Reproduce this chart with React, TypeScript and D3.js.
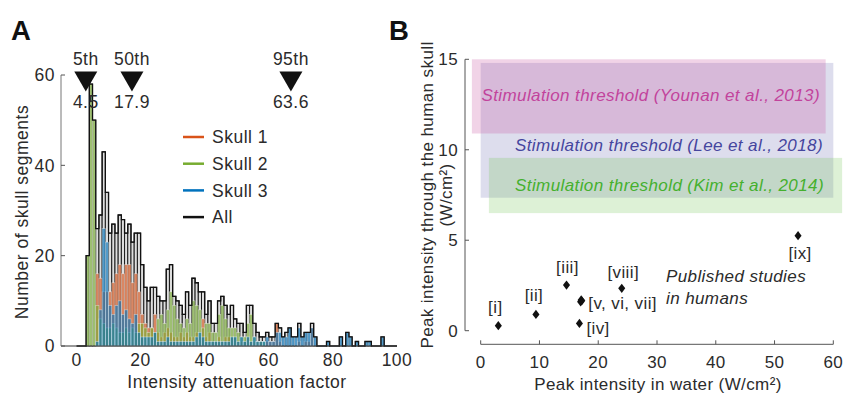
import React from "react";
import * as d3 from "d3";

// ---------- Panel A data (bin width 1, bins 0..99) ----------
const allCounts = [
  0, 0, 0, 20, 58, 50, 26, 29, 43, 34,
  25, 27, 25, 29, 28, 25, 27, 23, 25, 25,
  18, 13, 10, 13, 13, 11, 10, 10, 17, 18,
  11, 10, 9, 7, 12, 9, 15, 14, 12, 12,
  7, 10, 5, 5, 10, 11, 9, 7, 9, 6,
  5, 5, 3, 9, 9, 5, 3, 2, 2, 3,
  2, 2, 5, 4, 2, 3, 4, 2, 2, 5,
  2, 3, 3, 5, 2, 0, 0, 0, 1, 0,
  0, 0, 2, 0, 3, 2, 0, 1, 0, 0,
  1, 1, 0, 0, 0, 2, 0, 0, 0, 0,
];
const skull1Counts = [
  0, 0, 0, 0, 0, 0, 16, 15, 12, 12,
  12, 14, 16, 18, 16, 18, 18, 14, 16, 12,
  7, 5, 4, 4, 7, 3, 2, 3, 4, 3,
  2, 2, 3, 2, 3, 2, 2, 3, 2, 6,
  2, 3, 1, 1, 2, 1, 2, 2, 2, 2,
  1, 1, 1, 2, 1, 1, 1, 1, 0, 1,
  1, 1, 5, 1, 0, 0, 0, 0, 0, 1,
  0, 1, 1, 4, 0, 0, 0, 0, 0, 0,
  0, 0, 0, 0, 0, 0, 0, 0, 0, 0,
  0, 0, 0, 0, 0, 0, 0, 0, 0, 0,
];
const skull2Counts = [
  0, 0, 0, 20, 58, 50, 9, 6, 5, 4,
  4, 5, 4, 3, 3, 4, 3, 4, 3, 5,
  5, 4, 3, 4, 3, 6, 7, 5, 8, 12,
  9, 6, 5, 4, 6, 5, 10, 9, 8, 4,
  5, 5, 3, 3, 7, 9, 6, 4, 4, 4,
  3, 2, 2, 5, 7, 2, 1, 1, 1, 0,
  0, 0, 0, 0, 0, 0, 0, 0, 0, 0,
  0, 0, 0, 0, 0, 0, 0, 0, 0, 0,
  0, 0, 0, 0, 0, 0, 0, 0, 0, 0,
  0, 0, 0, 0, 0, 0, 0, 0, 0, 0,
];
const skull3Counts = [
  0, 0, 0, 0, 0, 0, 1, 8, 26, 23,
  9, 7, 9, 10, 7, 8, 6, 5, 7, 3,
  2, 2, 2, 2, 3, 1, 1, 1, 2, 1,
  1, 1, 1, 1, 1, 1, 1, 2, 3, 2,
  1, 1, 1, 1, 1, 1, 1, 1, 2, 2,
  1, 2, 1, 2, 1, 2, 1, 1, 1, 2,
  1, 1, 3, 3, 2, 2, 4, 2, 2, 4,
  2, 3, 3, 4, 2, 0, 0, 0, 1, 0,
  0, 0, 2, 0, 3, 2, 0, 1, 0, 0,
  1, 1, 0, 0, 0, 2, 0, 0, 0, 0,
];
const legendNames = ["Skull 1", "Skull 2", "Skull 3", "All"];
const xTicksA = [0, 20, 40, 60, 80, 100];
const yTicksA = [0, 20, 40, 60];
const percentileNames = ["5th", "50th", "95th"];
const percentileValues = ["4.5", "17.9", "63.6"];
const percentileMarkerAt = [2.9, 17.3, 66.9];

// ---------- Panel B data ----------
const thresholdNames = [
  "Stimulation threshold (Younan et al., 2013)",
  "Stimulation threshold (Lee et al., 2018)",
  "Stimulation threshold (Kim et al., 2014)",
];
const thresholdLow = [10.9, 7.35, 6.5];
const thresholdHigh = [15.0, 14.8, 9.55];
const thresholdXFrom = [-1.5, 0, 1.4];
const thresholdXTo = [58.7, 60, 61.5];
const studyIds = ["i", "ii", "iii", "iv", "v", "vi", "vii", "viii", "ix"];
const waterIntensity = [3.0, 9.4, 14.6, 16.8, 17.0, 17.2, 17.1, 24.0, 54.0];
const skullIntensity = [0.28, 0.9, 2.52, 0.4, 1.6, 1.65, 1.7, 2.34, 5.25];
const studyLabels = ["[i]", "[ii]", "[iii]", "[iv]", "[v, vi, vii]", "[viii]", "[ix]"];
const xTicksB = [0, 10, 20, 30, 40, 50, 60];
const yTicksB = [0, 5, 10, 15];

const FONT = "'Liberation Sans', Arial, Helvetica, sans-serif";
const TXT = "#2b2b2b";

export default function App() {
  // Panel A scales
  const xA = d3.scaleLinear().domain([0, 100]).range([76.5, 397]);
  const yA = d3.scaleLinear().domain([0, 60]).range([346, 75]);
  const fsA = 17.5;
  const lsA = 0.5;

  const skullSeries = [
    { counts: skull1Counts, color: "#D95319" },
    { counts: skull2Counts, color: "#77AC30" },
    { counts: skull3Counts, color: "#0072BD" },
  ];
  const legendColors = ["#D95319", "#77AC30", "#0072BD", "#111"];

  const stepPts: [number, number][] = [];
  allCounts.forEach((c, i) => {
    stepPts.push([xA(i), yA(c)]);
    stepPts.push([xA(i + 1), yA(c)]);
  });
  const outline = d3.line()(stepPts) as string;

  // Panel B scales
  const xB = d3.scaleLinear().domain([0, 60]).range([480.7, 833.3]);
  const yB = d3.scaleLinear().domain([0, 15]).range([330.7, 59.3]);
  const fsB = 17;
  const lsB = 0.4;
  const regionFills = ["rgba(200,80,160,0.25)", "rgba(170,170,210,0.4)", "rgba(120,200,90,0.25)"];
  const textColors = ["#c2439c", "#45459e", "#45b02e"];
  const regionOrder = [1, 0, 2];
  const textRight = [820, 823, 824];
  const textBase = [100.5, 151, 191];

  const diamond = d3.symbol().type(d3.symbolDiamond).size(48)() as string;

  const labelAnchors = [
    { pt: 0, dx: -3, dy: -12.5, anchor: "middle" },
    { pt: 1, dx: -2, dy: -13, anchor: "middle" },
    { pt: 2, dx: 1, dy: -12, anchor: "middle" },
    { pt: 3, dx: 7, dy: 10.5, anchor: "start" },
    { pt: 5, dx: 6.5, dy: 8, anchor: "start" },
    { pt: 7, dx: 1.5, dy: -10, anchor: "middle" },
    { pt: 8, dx: 2, dy: 23, anchor: "middle" },
  ];

  return (
    <svg
      width={844}
      height={394}
      style={{ position: "absolute", left: 0, top: 0, background: "#fff" }}
      fontFamily={FONT}
    >
      {/* ================= Panel A ================= */}
      <text x={11} y={39.5} fontSize={27.5} fontWeight="bold" fill="#111">A</text>

      <g>
        {allCounts.map((c, i) =>
          c > 0 ? (
            <rect key={"a" + i} x={xA(i)} y={yA(c)} width={xA(i + 1) - xA(i)} height={yA(0) - yA(c)}
              fill="#dedede" stroke="#1a1a1a" strokeWidth={1} />
          ) : null
        )}
      </g>
      {skullSeries.map((s, si) => (
        <g key={"s" + si}>
          {s.counts.map((c, i) =>
            c > 0 ? (
              <rect key={i} x={xA(i)} y={yA(c)} width={xA(i + 1) - xA(i)} height={yA(0) - yA(c)}
                fill={s.color} fillOpacity={0.62} stroke="#ffffff" strokeOpacity={0.5} strokeWidth={0.7} />
            ) : null
          )}
        </g>
      ))}
      <path d={outline} fill="none" stroke="#111" strokeWidth={1.3} />

      {/* axes A */}
      <line x1={61} x2={397} y1={346} y2={346} stroke="#333" strokeWidth={1} />
      <line x1={61} x2={61} y1={75} y2={346} stroke="#777" strokeWidth={1} />
      {yTicksA.map((t) => (
        <g key={"ya" + t}>
          <line x1={61} x2={65} y1={yA(t)} y2={yA(t)} stroke="#555" />
          <text x={55} y={yA(t)} dy="0.36em" textAnchor="end" fontSize={fsA} letterSpacing={lsA} fill={TXT}>{t}</text>
        </g>
      ))}
      {xTicksA.map((t) => (
        <text key={"xa" + t} x={xA(t)} y={365.5} textAnchor="middle" fontSize={fsA} letterSpacing={lsA} fill={TXT}>{t}</text>
      ))}
      <text x={237} y={388} textAnchor="middle" fontSize={fsA} letterSpacing={lsA} fill={TXT}>Intensity attenuation factor</text>
      <text transform="translate(28,212) rotate(-90)" textAnchor="middle" fontSize={fsA} letterSpacing={lsA} fill={TXT}>
        Number of skull segments
      </text>

      {percentileNames.map((n, i) => {
        const cx = xA(percentileMarkerAt[i]);
        const tri = d3.line()([[cx - 11.5, 71.5], [cx + 11.5, 71.5], [cx, 91.5]]) + "Z";
        return (
          <g key={"p" + i}>
            <text x={cx} y={65} textAnchor="middle" fontSize={fsA} letterSpacing={lsA} fill={TXT}>{n}</text>
            <path d={tri} fill="#111" />
            <text x={cx} y={108} textAnchor="middle" fontSize={fsA} letterSpacing={lsA} fill={TXT}>{percentileValues[i]}</text>
          </g>
        );
      })}

      {legendNames.map((n, i) => {
        const y = 137 + i * 26.7;
        return (
          <g key={"l" + i}>
            <line x1={183} x2={204} y1={y} y2={y} stroke={legendColors[i]} strokeWidth={2.5} />
            <text x={212} y={y} dy="0.36em" fontSize={fsA} letterSpacing={lsA} fill={TXT}>{n}</text>
          </g>
        );
      })}

      {/* ================= Panel B ================= */}
      <text x={389} y={39.5} fontSize={27.5} fontWeight="bold" fill="#111">B</text>

      {regionOrder.map((k) => (
        <rect key={"r" + k}
          x={xB(thresholdXFrom[k])} y={yB(thresholdHigh[k])}
          width={xB(thresholdXTo[k]) - xB(thresholdXFrom[k])}
          height={yB(thresholdLow[k]) - yB(thresholdHigh[k])}
          fill={regionFills[k]} />
      ))}
      {thresholdNames.map((n, k) => (
        <text key={"t" + k} x={textRight[k]} y={textBase[k]} textAnchor="end"
          fontSize={fsB} letterSpacing={lsB} fontStyle="italic" fill={textColors[k]}>{n}</text>
      ))}

      <line x1={465} x2={465} y1={yB(15)} y2={yB(0)} stroke="#555" />
      {yTicksB.map((t) => (
        <g key={"yb" + t}>
          <line x1={465} x2={469} y1={yB(t)} y2={yB(t)} stroke="#555" />
          <text x={458} y={yB(t)} dy="0.36em" textAnchor="end" fontSize={fsB} letterSpacing={lsB} fill={TXT}>{t}</text>
        </g>
      ))}
      <line x1={xB(0)} x2={xB(60)} y1={344.3} y2={344.3} stroke="#555" />
      {xTicksB.map((t) => (
        <g key={"xb" + t}>
          <line x1={xB(t)} x2={xB(t)} y1={344.3} y2={340.3} stroke="#555" />
          <text x={xB(t)} y={368} textAnchor="middle" fontSize={fsB} letterSpacing={lsB} fill={TXT}>{t}</text>
        </g>
      ))}
      <text x={658} y={390} textAnchor="middle" fontSize={fsB} letterSpacing={lsB} fill={TXT}>Peak intensity in water (W/cm²)</text>
      <text transform="translate(433,195) rotate(-90)" textAnchor="middle" fontSize={fsB} letterSpacing={lsB} fill={TXT}>
        Peak intensity through the human skull
      </text>
      <text transform="translate(452,195) rotate(-90)" textAnchor="middle" fontSize={fsB} letterSpacing={lsB} fill={TXT}>
        (W/cm²)
      </text>

      {studyIds.map((id, i) => (
        <path key={"d" + id} d={diamond}
          transform={`translate(${xB(waterIntensity[i])},${yB(skullIntensity[i])}) scale(0.95,0.72)`}
          fill="#111" />
      ))}
      {studyLabels.map((lab, j) => {
        const a = labelAnchors[j];
        return (
          <text key={"sl" + j} x={xB(waterIntensity[a.pt]) + a.dx} y={yB(skullIntensity[a.pt]) + a.dy}
            textAnchor={a.anchor as any} fontSize={fsB} letterSpacing={lsB} fill={TXT}>{lab}</text>
        );
      })}
      <text x={666} y={282} fontSize={fsB} letterSpacing={lsB} fontStyle="italic" fill={TXT}>Published studies</text>
      <text x={666} y={303.5} fontSize={fsB} letterSpacing={lsB} fontStyle="italic" fill={TXT}>in humans</text>
    </svg>
  );
}
